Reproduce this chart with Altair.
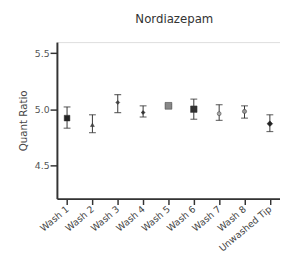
import altair as alt
import pandas as pd

categories = ["Wash 1", "Wash 2", "Wash 3", "Wash 4", "Wash 5", "Wash 6", "Wash 7", "Wash 8", "Unwashed Tip"]
means = [4.92, 4.86, 5.06, 4.97, 5.03, 5.00, 4.96, 4.98, 4.87]
upper = [5.02, 4.95, 5.13, 5.03, 5.04, 5.09, 5.04, 5.03, 4.95]
lower = [4.83, 4.79, 4.97, 4.93, 5.02, 4.91, 4.90, 4.92, 4.80]
shapes = ["square", "triangle-up", "diamond", "diamond", "square", "square", "circle", "circle", "diamond"]
fills = ["#222222", "#444444", "#444444", "#333333", "#888888", "#333333", "#aaaaaa", "#999999", "#222222"]
sizes = [34, 16, 16, 16, 48, 44, 16, 18, 34]

df = pd.DataFrame({"cat": categories, "mean": means, "hi": upper, "lo": lower,
                   "shape": shapes, "fill": fills, "size": sizes})

FONT = "DejaVu Sans"
x = alt.X("cat:N", sort=categories, title=None,
          scale=alt.Scale(type="point", padding=0.4),
          axis=alt.Axis(labelAngle=-40, labelAlign="right", labelBaseline="middle",
                        labelFontSize=9.5, labelColor="#444444", labelPadding=3,
                        tickSize=6, tickColor="#333333", domainColor="#333333",
                        domainWidth=2, tickWidth=1.5, labelFont=FONT))
yscale = alt.Scale(domain=[4.2, 5.6], nice=False, zero=False)
yaxis = alt.Axis(values=[4.5, 5.0, 5.5], format=".1f", grid=False, title="Quant Ratio",
                 titleFontSize=10.5, titleFontWeight="normal", titleColor="#444444",
                 labelFontSize=9.5, labelColor="#555555", tickSize=7, tickWidth=1.5,
                 tickColor="#333333", domainColor="#333333", domainWidth=2,
                 titlePadding=6, labelFont=FONT, titleFont=FONT, labelPadding=1)

base = alt.Chart(df)
rule = base.mark_rule(color="#333333", strokeWidth=1).encode(
    x=x, y=alt.Y("lo:Q", scale=yscale, axis=yaxis), y2="hi:Q")
cap_hi = base.mark_tick(color="#333333", size=7, thickness=1.2).encode(
    x=x, y=alt.Y("hi:Q", scale=yscale))
cap_lo = base.mark_tick(color="#333333", size=7, thickness=1.2).encode(
    x=x, y=alt.Y("lo:Q", scale=yscale))
pts = base.mark_point(filled=True, opacity=1, stroke="#333333", strokeWidth=0.5).encode(
    x=x, y=alt.Y("mean:Q", scale=yscale),
    shape=alt.Shape("shape:N", scale=None),
    fill=alt.Fill("fill:N", scale=None),
    size=alt.Size("size:Q", scale=None))

chart = alt.layer(rule, cap_hi, cap_lo, pts).properties(
    width=228, height=160,
    title=alt.TitleParams("Nordiazepam", fontSize=12, fontWeight="normal",
                          color="#333333", font=FONT, offset=17, anchor="middle",
                          dx=6),
    autosize=alt.AutoSizeParams(type="none"),
    padding={"left": 50, "top": 32, "right": 0, "bottom": 66},
).configure_view(stroke=None).configure(background="white")

chart.save("out.html", embed_options={"renderer": "svg", "actions": False})
